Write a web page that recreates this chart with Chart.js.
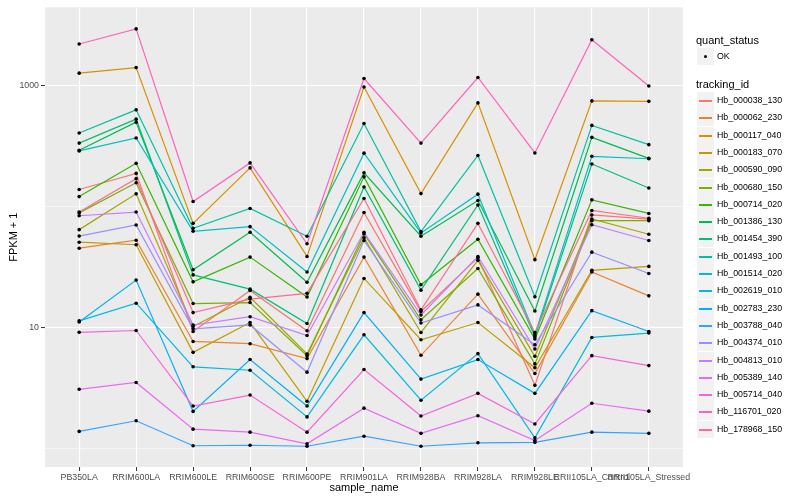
<!DOCTYPE html>
<html>
<head>
<meta charset="utf-8">
<script src="https://cdn.jsdelivr.net/npm/chart.js@4.4.1/dist/chart.umd.min.js"></script>
<style>
  body { margin: 0; background: #fff; font-family: "Liberation Sans", Arial, sans-serif; }
  #wrap { position: relative; width: 800px; height: 500px; }
  #legend { position: absolute; left: 696px; top: 0; width: 104px; height: 500px; }
  .ltitle { position: absolute; left: 0; font-size: 11px; line-height: 13px; color: #000; white-space: nowrap; }
  .lkey { position: absolute; left: 1px; width: 17px; height: 17px; background: #F2F2F2; }
  .lkey .ln { position: absolute; left: 2px; right: 2px; top: 8px; height: 1.5px; }
  .lkey .dot { position: absolute; left: 7px; top: 7px; width: 3.4px; height: 3.4px; border-radius: 50%; background: #000; }
  .ltext { position: absolute; left: 21px; font-size: 8.8px; line-height: 17px; color: #000; white-space: nowrap; }
</style>
</head>
<body>
<div id="wrap">
  <canvas id="chart" width="800" height="500"></canvas>
  <div id="legend"></div>
</div>
<script>
const sampleNames = ["PB350LA", "RRIM600LA", "RRIM600LE", "RRIM600SE", "RRIM600PE", "RRIM901LA",
  "RRIM928BA", "RRIM928LA", "RRIM928LE", "RRII105LA_Control", "RRII105LA_Stressed"];

const trackingIds = ["Hb_000038_130", "Hb_000062_230", "Hb_000117_040", "Hb_000183_070", "Hb_000590_090",
  "Hb_000680_150", "Hb_000714_020", "Hb_001386_130", "Hb_001454_390", "Hb_001493_100",
  "Hb_001514_020", "Hb_002619_010", "Hb_002783_230", "Hb_003788_040", "Hb_004374_010",
  "Hb_004813_010", "Hb_005389_140", "Hb_005714_040", "Hb_116701_020", "Hb_178968_150"];

// ggplot default hue palette, 20 levels
const lineColors = ["#F8766D", "#EA8331", "#D89000", "#C09B00", "#A3A500", "#7CAE00", "#39B600",
  "#00BB4E", "#00BF7D", "#00C1A3", "#00BFC4", "#00BAE0", "#00B0F6", "#35A2FF", "#9590FF",
  "#C77CFF", "#E76BF3", "#FA62DB", "#FF62BC", "#FF6C91"];

// FPKM + 1, one value per sample (same order as sampleNames)
const hb_000038_130 = [139, 189, 9.27, 20.3, 9.40, 89.8, 13.6, 37.9, 3.32, 85.5, 78.9];
const hb_000062_230 = [45.4, 52.9, 7.67, 7.35, 5.53, 38.3, 5.89, 18.9, 4.16, 28.8, 18.3];
const hb_000117_040 = [1279, 1422, 72.9, 210, 38.8, 981, 128.6, 725, 36.5, 753, 747];
const hb_000183_070 = [50.9, 48.5, 6.23, 11.0, 2.45, 25.5, 7.92, 11.0, 4.64, 29.8, 32.1];
const hb_000590_090 = [64.7, 128, 10.2, 17.8, 6.04, 55.3, 9.1, 36.0, 5.78, 79.2, 59.2];
const hb_000680_150 = [89, 158, 15.8, 16.1, 5.85, 59.7, 11.6, 30.8, 5.00, 76.7, 76.7];
const hb_000714_020 = [121.5, 229, 23.9, 38.3, 17.9, 177, 22.6, 53.9, 8.03, 114.2, 88.1];
const hb_001386_130 = [294, 502, 30.1, 61.5, 23.7, 191, 57.0, 112.7, 13.7, 376, 252];
const hb_001454_390 = [337, 532, 27.3, 20.8, 10.8, 146, 20.4, 103.5, 8.39, 226, 143];
const hb_001493_100 = [408, 635, 66.3, 96.8, 57.0, 490, 62.3, 266, 17.97, 472, 327];
const hb_001514_020 = [290, 371, 62.7, 68.5, 28.8, 278, 60.8, 127.2, 8.71, 262, 250];
const hb_002619_010 = [11.35, 15.9, 4.73, 4.43, 1.82, 8.71, 2.50, 6.08, 1.22, 8.28, 9.0];
const hb_002783_230 = [11.1, 24.7, 2.02, 5.43, 2.24, 13.3, 3.74, 5.43, 2.85, 13.8, 9.27];
const hb_003788_040 = [1.38, 1.69, 1.05, 1.06, 1.04, 1.26, 1.04, 1.11, 1.12, 1.36, 1.33];
const hb_004374_010 = [57.2, 70.7, 9.75, 10.5, 4.27, 52.6, 10.9, 15.4, 7.21, 42.1, 28.0];
const hb_004813_010 = [84.3, 90.5, 10.5, 12.3, 8.60, 61.5, 12.7, 38.8, 6.64, 71.1, 52.6];
const hb_005389_140 = [3.08, 3.51, 1.44, 1.36, 1.09, 2.15, 1.33, 1.86, 1.16, 2.36, 2.03];
const hb_005714_040 = [9.13, 9.45, 2.24, 2.76, 1.36, 4.49, 1.85, 2.85, 1.59, 5.85, 4.84];
const hb_116701_020 = [2228, 2972, 110.5, 231, 49.4, 1155, 337, 1177, 279, 2415, 1000];
const hb_178968_150 = [90.5, 171, 13.3, 17.2, 19.2, 117, 14.0, 72.9, 9.10, 93.2, 80.4];

const seriesValues = [hb_000038_130, hb_000062_230, hb_000117_040, hb_000183_070, hb_000590_090,
  hb_000680_150, hb_000714_020, hb_001386_130, hb_001454_390, hb_001493_100,
  hb_001514_020, hb_002619_010, hb_002783_230, hb_003788_040, hb_004374_010,
  hb_004813_010, hb_005389_140, hb_005714_040, hb_116701_020, hb_178968_150];

const yTicks = [1, 10, 100, 1000];
const yLabelled = [10, 1000];

Chart.defaults.font.family = '"Liberation Sans", Arial, sans-serif';

// grey panel behind the grid, like theme_grey
const panelBackground = {
  id: "panelBackground",
  beforeDraw(chart) {
    const { ctx, chartArea: a } = chart;
    ctx.save();
    ctx.fillStyle = "#EBEBEB";
    ctx.fillRect(a.left, a.top, a.right - a.left, a.bottom - a.top);
    ctx.restore();
  }
};

const lineSets = seriesValues.map((vals, i) => ({
  label: trackingIds[i],
  data: vals.map((v, j) => ({ x: j, y: v })),
  borderColor: lineColors[i],
  borderWidth: 1.2,
  pointRadius: 0,
  fill: false,
  tension: 0,
  order: -i // later groups drawn on top, as in ggplot
}));

const pointSet = {
  label: "OK",
  data: seriesValues.flatMap(vals => vals.map((v, j) => ({ x: j, y: v }))),
  showLine: false,
  pointRadius: 1.8,
  pointBackgroundColor: "#000",
  pointBorderWidth: 0,
  order: -100
};

new Chart(document.getElementById("chart"), {
  type: "line",
  data: { datasets: [...lineSets, pointSet] },
  plugins: [panelBackground],
  options: {
    responsive: false,
    animation: false,
    layout: { padding: { left: 0, top: 5, right: 117, bottom: 0 } },
    plugins: { legend: { display: false }, tooltip: { enabled: false } },
    scales: {
      x: {
        type: "linear",
        min: -0.6,
        max: 10.6,
        afterBuildTicks: axis => { axis.ticks = sampleNames.map((_, i) => ({ value: i })); },
        afterFit: axis => { axis.height = 33; },
        ticks: {
          autoSkip: false,
          maxRotation: 0,
          minRotation: 0,
          padding: 1,
          color: "#4D4D4D",
          font: { size: 8.8 },
          callback: v => sampleNames[v]
        },
        grid: { color: "#fff", lineWidth: 1.1, tickColor: "#333", tickLength: 4, tickWidth: 1 },
        border: { display: false },
        title: { display: true, text: "sample_name", color: "#000", font: { size: 11 }, padding: { top: 0, bottom: 5 } }
      },
      y: {
        type: "logarithmic",
        min: 0.715,
        max: 4490,
        afterBuildTicks: axis => { axis.ticks = yTicks.map(v => ({ value: v })); },
        afterFit: axis => { axis.width = 45; },
        ticks: {
          autoSkip: false,
          padding: 2,
          color: "#4D4D4D",
          font: { size: 8.8 },
          callback: v => (yLabelled.includes(v) ? String(v) : "")
        },
        grid: {
          color: "#fff",
          lineWidth: ctx => (yLabelled.includes(ctx.tick.value) ? 1.1 : 0.55),
          tickColor: ctx => (yLabelled.includes(ctx.tick.value) ? "#333" : "rgba(0,0,0,0)"),
          tickLength: 4,
          tickWidth: 1
        },
        border: { display: false },
        title: { display: true, text: "FPKM + 1", color: "#000", font: { size: 11 }, padding: { top: 7, bottom: 0 } }
      }
    }
  }
});

// ggplot-style legend on the right
const legend = document.getElementById("legend");
let html = '<div class="ltitle" style="top:34px">quant_status</div>';
html += '<div class="lkey" style="top:48px"><div class="dot"></div></div>';
html += '<div class="ltext" style="top:48px">OK</div>';
html += '<div class="ltitle" style="top:77.5px">tracking_id</div>';
trackingIds.forEach((id, i) => {
  const top = Math.round(92 + i * 17.3);
  html += `<div class="lkey" style="top:${top}px"><div class="ln" style="background:${lineColors[i]}"></div></div>`;
  html += `<div class="ltext" style="top:${top}px">${id}</div>`;
});
legend.innerHTML = html;
</script>
</body>
</html>
